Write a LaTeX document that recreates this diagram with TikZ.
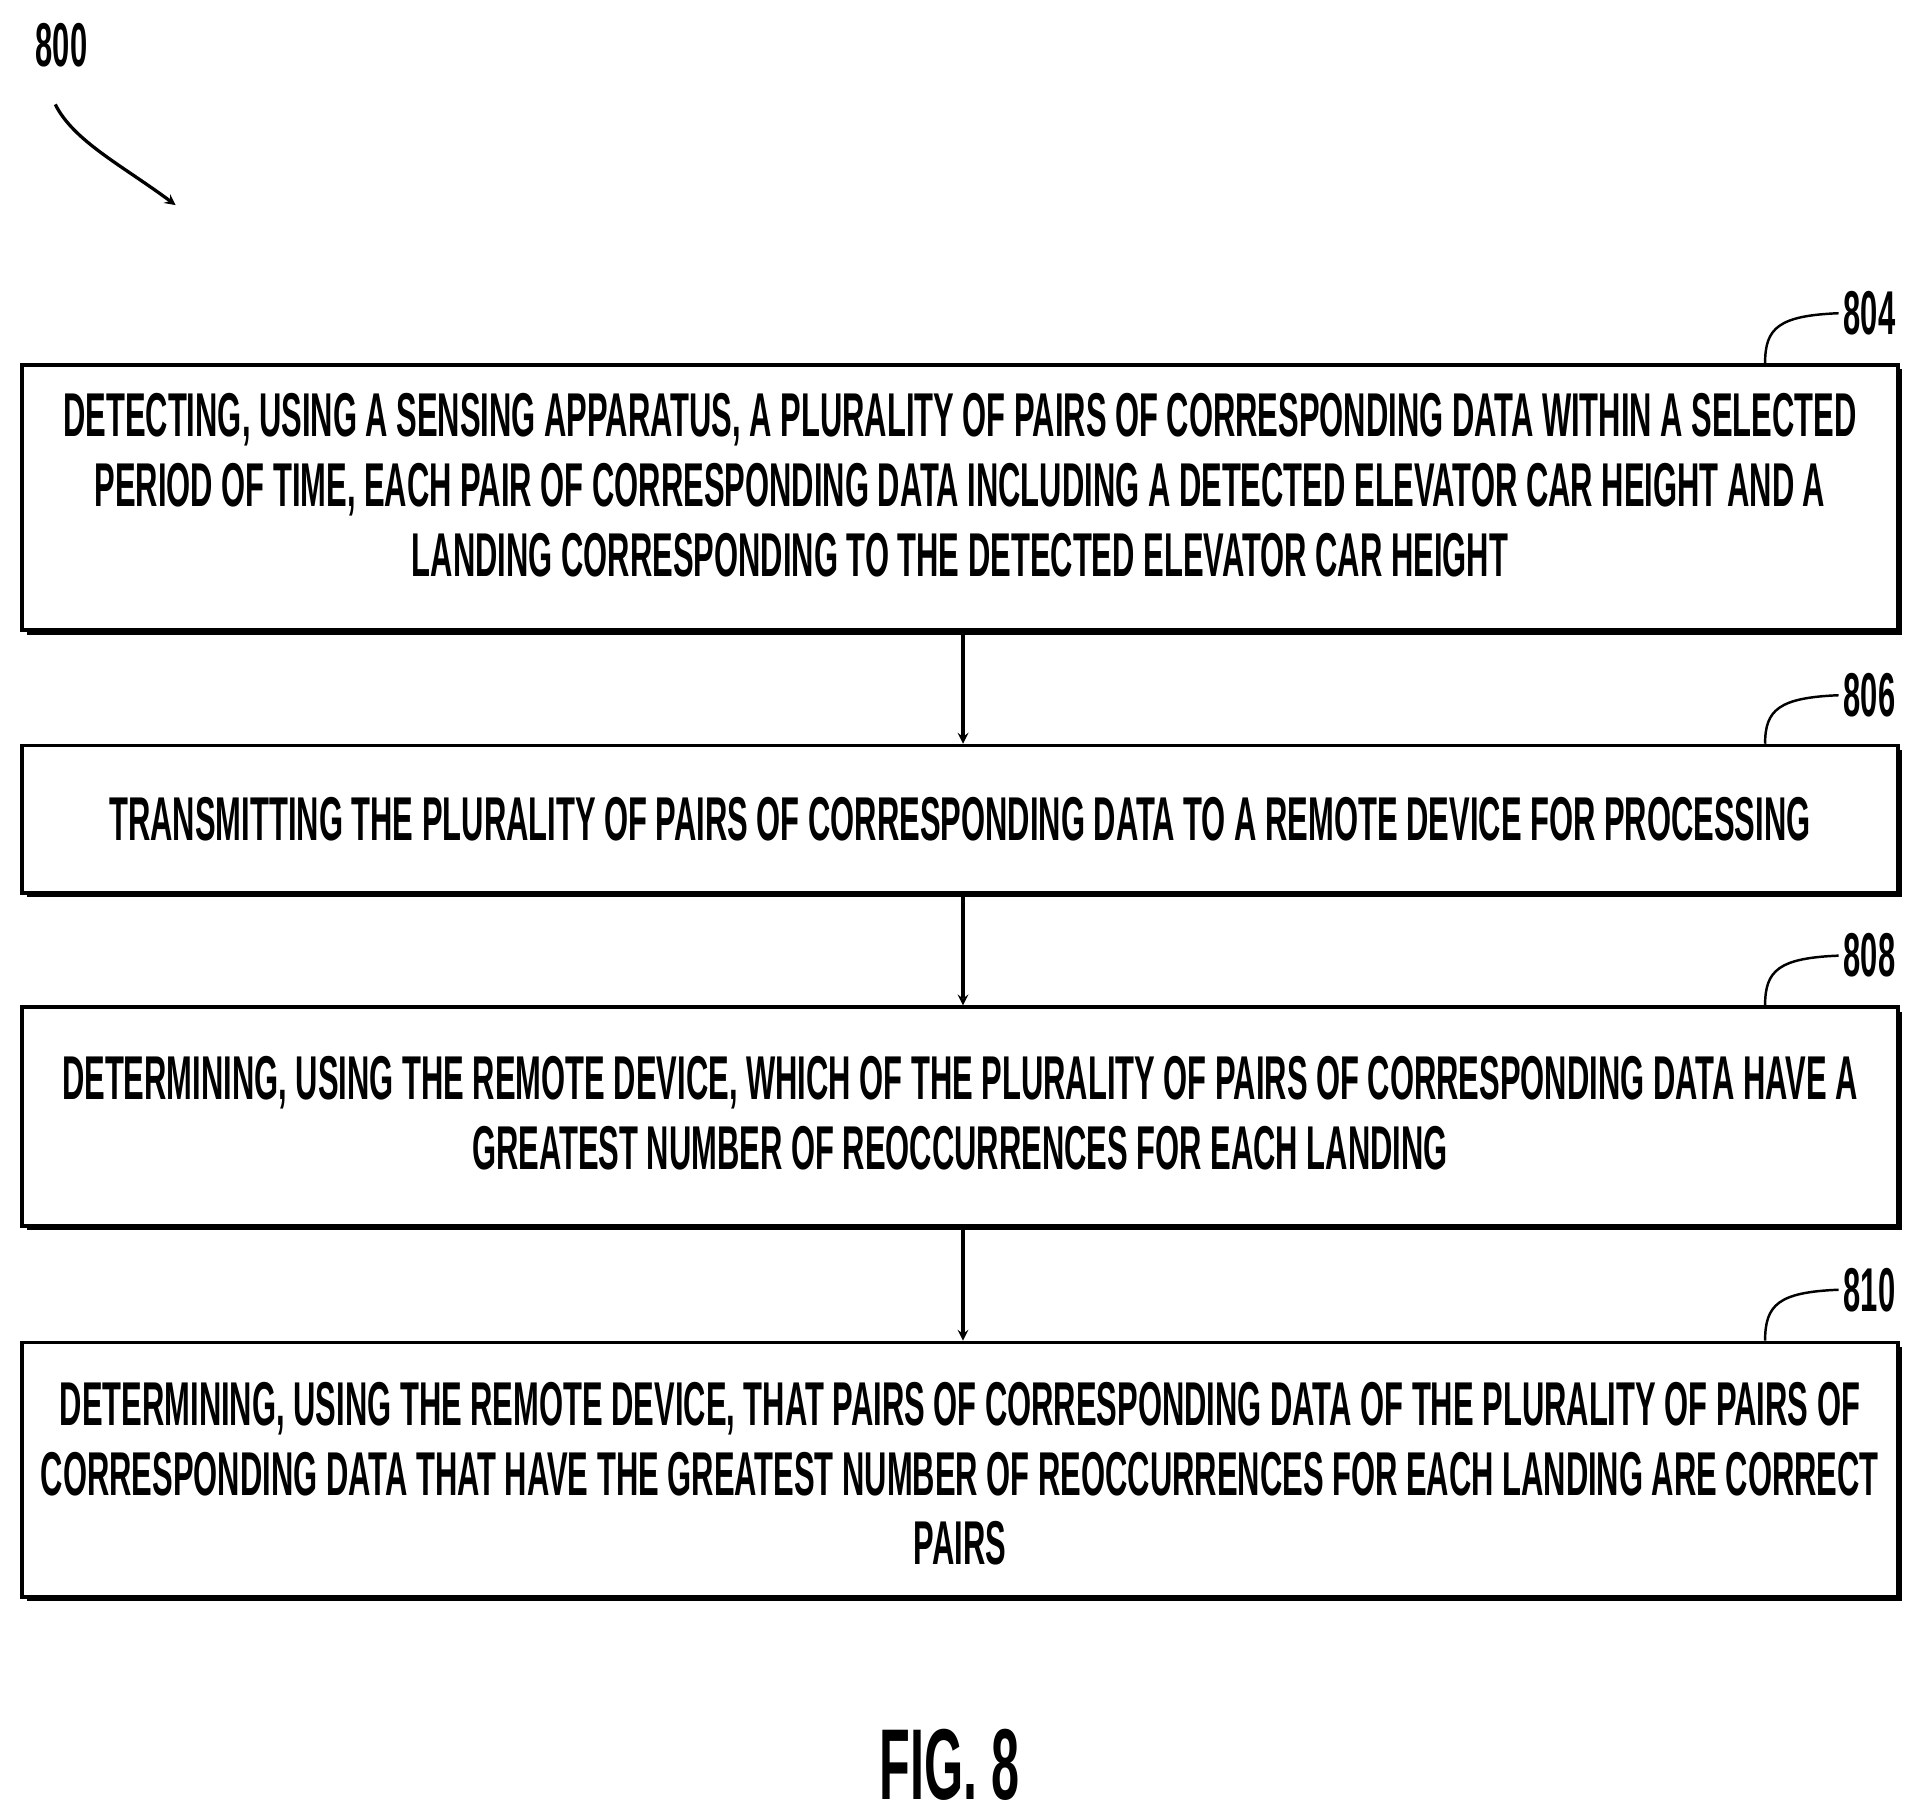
\documentclass[tikz,border=0pt]{standalone}
\usepackage{fontspec}
\usetikzlibrary{shadows}
\newfontfamily\patfont{Liberation Sans}[FakeStretch=0.5]
\tikzset{
    stepbox/.style={draw, line width=0.9mm, fill=white, minimum width=458.1mm, inner sep=0pt,
        drop shadow={shadow xshift=1.1mm, shadow yshift=-1.1mm, opacity=1, fill=black}},
    steptext/.style={anchor=north, align=center, inner sep=0pt},
    reflabel/.style={font=\patfont\bfseries\fontsize{43}{48}\selectfont},
    flow/.style={-stealth, line width=0.8mm}
}
\begin{document}
\begin{tikzpicture}[x=0.3mm, y=-0.3mm, font=\patfont\bfseries\fontsize{43}{48.5}\selectfont]
    \useasboundingbox (0,0) rectangle (1568,1480);

    % boxes
    \node[stepbox, minimum height=64.8mm] (detect) at (781.5,405) {};
    \node[stepbox, minimum height=36mm] (transmit) at (781.5,667) {};
    \node[stepbox, minimum height=53.4mm] (greatest) at (781.5,909) {};
    \node[stepbox, minimum height=62.1mm] (correct) at (781.5,1196.5) {};

    % texts
    \node[steptext] (tdetect) at (781.5,320) {DETECTING, USING A SENSING APPARATUS, A PLURALITY OF PAIRS OF CORRESPONDING DATA WITHIN A SELECTED\\PERIOD OF TIME, EACH PAIR OF CORRESPONDING DATA INCLUDING A DETECTED ELEVATOR CAR HEIGHT AND A\\LANDING CORRESPONDING TO THE DETECTED ELEVATOR CAR HEIGHT};
    \node[align=center, inner sep=0pt] (ttransmit) at (transmit.center) {TRANSMITTING THE PLURALITY OF PAIRS OF CORRESPONDING DATA TO A REMOTE DEVICE FOR PROCESSING};
    \node[steptext] (tgreatest) at (781.5,860) {DETERMINING, USING THE REMOTE DEVICE, WHICH OF THE PLURALITY OF PAIRS OF CORRESPONDING DATA HAVE A\\GREATEST NUMBER OF REOCCURRENCES FOR EACH LANDING};
    \node[steptext] (tcorrect) at (781.5,1125) {DETERMINING, USING THE REMOTE DEVICE, THAT PAIRS OF CORRESPONDING DATA OF THE PLURALITY OF PAIRS OF\\CORRESPONDING DATA THAT HAVE THE GREATEST NUMBER OF REOCCURRENCES FOR EACH LANDING ARE CORRECT\\PAIRS};

    % connectors
    \draw[flow] (detect.south -| 784,0) -- (transmit.north -| 784,0);
    \draw[flow] (transmit.south -| 784,0) -- (greatest.north -| 784,0);
    \draw[flow] (greatest.south -| 784,0) -- (correct.north -| 784,0);

    % reference numerals
    \node[reflabel] (n800) at (50,37) {800};
    \coordinate (a800) at (143,167);
    \draw[flow] (45,85) .. controls (60,115) and (100,135) .. (a800);

    \foreach \lab/\stepname/\yy in {804/detect/255, 806/transmit/566, 808/greatest/778, 810/correct/1050} {
        \node[reflabel] (n\lab) at (1522,\yy) {\lab};
        \draw[line width=0.6mm] (\stepname.north -| 1437,0) .. controls (1437,\yy+12) and (1448,\yy+2) .. (n\lab.west);
    }

    \node[font=\patfont\bfseries\fontsize{70}{80}\selectfont] (fig) at (773,1437) {FIG. 8};
\end{tikzpicture}
\end{document}
